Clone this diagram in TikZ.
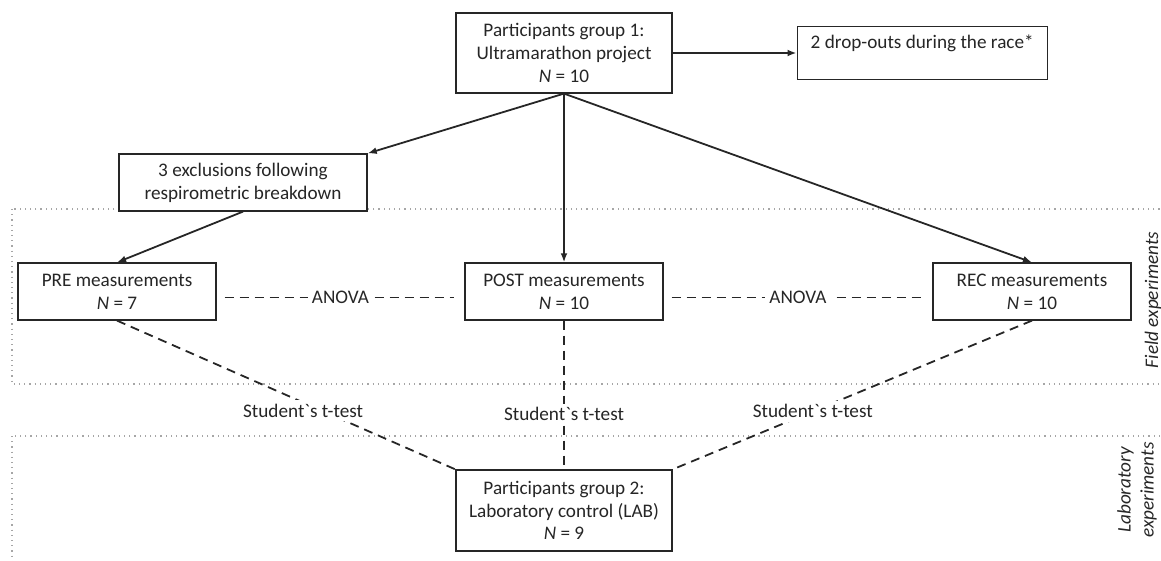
\documentclass[tikz,border=0pt]{standalone}
\usepackage{fontspec}
\setmainfont{Carlito}
\usepackage{tikz}
\usetikzlibrary{positioning,arrows.meta}
\definecolor{FlowInk}{HTML}{262626}
\definecolor{FlowDots}{HTML}{A6A6A6}

\begin{document}
\begin{tikzpicture}[
  x=0.5pt, y=-0.5pt,
  font=\fontsize{9.6}{11.4}\selectfont,
  box/.style={draw=FlowInk, fill=white, line width=0.6pt, align=center, inner sep=2pt, text=FlowInk},
  arrow/.style={-{Latex[length=1.6mm,width=1.2mm]}, line width=0.9pt, FlowInk},
  dashline/.style={dash pattern=on 4.5pt off 3pt, line width=0.9pt, FlowInk},
  region/.style={draw=FlowDots, dotted, line width=0.6pt},
  statlabel/.style={fill=white, inner sep=2pt, text=FlowInk},
  sidelabel/.style={rotate=90, align=center, font=\fontsize{9.6}{11.4}\selectfont\itshape, text=FlowInk}
]
\useasboundingbox (0,0) rectangle (1161,561);
\clip (0,0) rectangle (1161,561);
\draw[region] (12,209) rectangle (1170,384);
\draw[region] (12,436) rectangle (1170,580);
\node[box, minimum width=108pt, minimum height=40pt] (g1) at (564,53) {Participants group 1:\\Ultramarathon project\\\textit{N} = 10};
\node[box, minimum width=125pt, minimum height=26.5pt, right=62pt of g1] (drop) {2 drop-outs during the race*\\\mbox{}};
\node[box, minimum width=124pt, minimum height=28.5pt] (excl) at (243,182.5) {3 exclusions following\\respirometric breakdown};
\node[box, minimum width=99pt, minimum height=28.5pt] (pre) at (117,291.5) {PRE measurements\\\textit{N} = 7};
\node[box, minimum width=99pt, minimum height=28.5pt] (post) at (564,291.5) {POST measurements\\\textit{N} = 10};
\node[box, minimum width=99pt, minimum height=28.5pt] (rec) at (1032,291.5) {REC measurements\\\textit{N} = 10};
\node[box, minimum width=108pt, minimum height=40.5pt] (lab) at (564,510.5) {Participants group 2:\\Laboratory control (LAB)\\\textit{N} = 9};
\node[sidelabel] (field) at (1153,300) {Field experiments};
\node[sidelabel] (labside) at (1137,490) {Laboratory\\experiments};
\draw[arrow] (g1) -- (drop);
\draw[arrow] (g1.south) -- (excl.north east);
\draw[arrow] (g1.south) -- (post.north);
\draw[arrow] (g1.south) -- (rec.north);
\draw[arrow] (excl.south) -- (pre.north);
\draw[dashline, shorten <=4pt, shorten >=5pt] ([yshift=-3pt]pre.east) -- node[statlabel] {ANOVA} ([yshift=-3pt]post.west);
\draw[dashline, shorten <=4pt, shorten >=5pt] ([yshift=-3pt]post.east) -- node[statlabel] {ANOVA} ([yshift=-3pt]rec.west);
\draw[dashline] (pre.south) -- node[statlabel, pos=0.55, yshift=-4pt] {Student\textasciigrave s t-test} (lab.north west);
\draw[dashline] (post.south) -- node[statlabel, pos=0.63] {Student\textasciigrave s t-test} (lab.north);
\draw[dashline] (rec.south) -- node[statlabel, pos=0.61] {Student\textasciigrave s t-test} (lab.north east);
\end{tikzpicture}
\end{document}
